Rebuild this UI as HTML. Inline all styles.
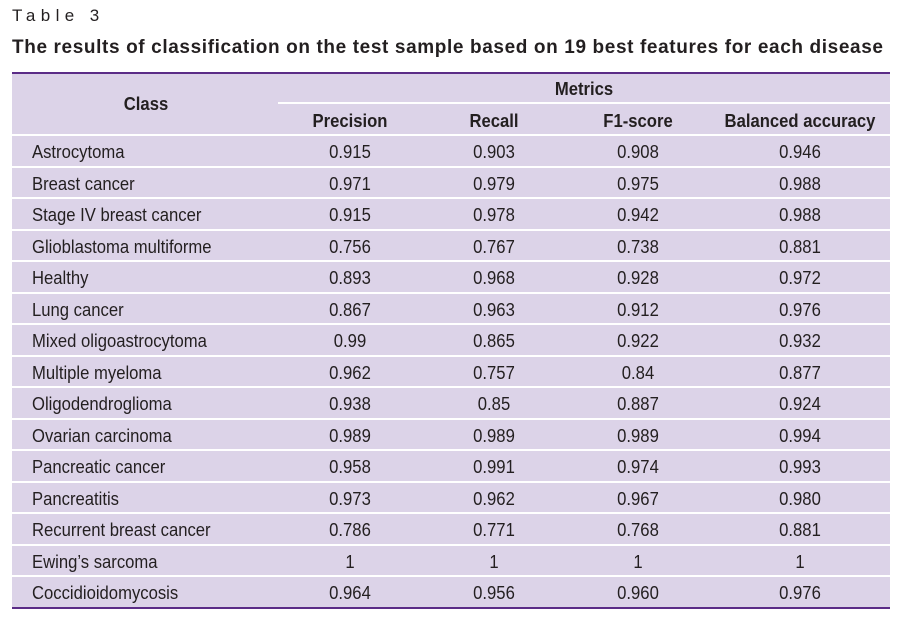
<!DOCTYPE html>
<html><head><meta charset="utf-8"><style>
body{margin:0;width:902px;height:625px;background:#fff;position:relative;overflow:hidden;font-family:"Liberation Sans",Arial,sans-serif;color:#231f20}
.abs{position:absolute}
.t{position:absolute;white-space:nowrap;line-height:20px;font-size:18.5px}
.s{display:inline-block;transform:scaleX(.9)}
.l .s{transform-origin:left center}
.c{transform:translateX(-50%)}
.c .s{transform-origin:center}
.band{position:absolute;left:12px;width:878px;background:#dcd3e8}
</style></head><body>
<div class="abs" style="left:12px;top:6px;font-size:17px;letter-spacing:5.4px;line-height:20px">Table 3</div>
<div class="abs" style="left:12px;top:37px;font-size:19px;letter-spacing:0.62px;font-weight:bold;line-height:22px;white-space:nowrap">The results of classification on the test sample based on 19 best features for each disease</div>
<div class="abs" style="left:12px;top:72px;width:878px;height:2px;background:#5b2c87"></div>
<div class="band" style="top:74px;height:60px"></div>
<div class="abs" style="left:278px;top:102px;width:612px;height:2px;background:#fff"></div>
<div class="t c" style="left:146px;top:94px;font-weight:bold"><span class="s">Class</span></div>
<div class="t c" style="left:584px;top:79px;font-weight:bold"><span class="s">Metrics</span></div>
<div class="t c" style="left:350px;top:111px;font-weight:bold"><span class="s">Precision</span></div>
<div class="t c" style="left:494px;top:111px;font-weight:bold"><span class="s">Recall</span></div>
<div class="t c" style="left:638px;top:111px;font-weight:bold"><span class="s">F1-score</span></div>
<div class="t c" style="left:800px;top:111px;font-weight:bold"><span class="s">Balanced accuracy</span></div>
<div id="rows"></div>
<div class="abs" style="left:12px;top:607px;width:878px;height:2px;background:#5b2c87"></div>
<script>
const classes=["Astrocytoma","Breast cancer","Stage IV breast cancer","Glioblastoma multiforme","Healthy","Lung cancer","Mixed oligoastrocytoma","Multiple myeloma","Oligodendroglioma","Ovarian carcinoma","Pancreatic cancer","Pancreatitis","Recurrent breast cancer","Ewing’s sarcoma","Coccidioidomycosis"];
const precision=["0.915","0.971","0.915","0.756","0.893","0.867","0.99","0.962","0.938","0.989","0.958","0.973","0.786","1","0.964"];
const recall=["0.903","0.979","0.978","0.767","0.968","0.963","0.865","0.757","0.85","0.989","0.991","0.962","0.771","1","0.956"];
const f1=["0.908","0.975","0.942","0.738","0.928","0.912","0.922","0.84","0.887","0.989","0.974","0.967","0.768","1","0.960"];
const balanced=["0.946","0.988","0.988","0.881","0.972","0.976","0.932","0.877","0.924","0.994","0.993","0.980","0.881","1","0.976"];
const host=document.getElementById('rows');
const cols=[[precision,350,'precision'],[recall,494,'recall'],[f1,638,'f1-score'],[balanced,800,'balanced-accuracy']];
classes.forEach((name,i)=>{
  const top=136+i*31.5;
  const b=document.createElement('div');b.className='band';
  
  
  b.style.top=top+'px';b.style.height=(i==classes.length-1?607-top:29.5)+'px';
  host.appendChild(b);
  const cy=top+6;
  const l=document.createElement('div');l.className='t l';
  
  
  l.style.left='32px';l.style.top=cy+'px';
  l.innerHTML='<span class="s">'+name+'</span>';host.appendChild(l);
  cols.forEach(([arr,x,n])=>{
    const d=document.createElement('div');d.className='t c';
    
    
    d.style.left=x+'px';d.style.top=cy+'px';
    d.innerHTML='<span class="s">'+arr[i]+'</span>';host.appendChild(d);
  });
});
</script>
</body></html>
